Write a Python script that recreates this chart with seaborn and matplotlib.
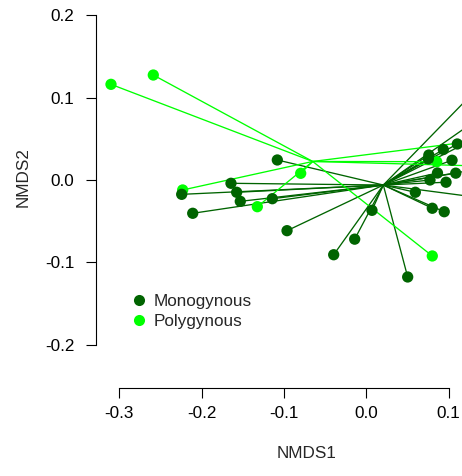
import numpy as np
import pandas as pd
import matplotlib
matplotlib.use("Agg")
import matplotlib.pyplot as plt
import seaborn as sns
from matplotlib.collections import LineCollection
from matplotlib.lines import Line2D

# ---- data (NMDS scores) ----
mono_x = [-0.1080, -0.1643, -0.1574, -0.1530, -0.2242, -0.2108, -0.1141, -0.0962,
          -0.0395, -0.0140, 0.0070, 0.0504, 0.0597, 0.0803, 0.0948, 0.0761,
          0.0755, 0.0937, 0.1107, 0.1043, 0.0866, 0.1088, 0.0775, 0.0970,
          0.1358, 0.1358, 0.1383, 0.1444, 0.1505]
mono_y = [0.0243, -0.0040, -0.0149, -0.0259, -0.0174, -0.0404, -0.0227, -0.0615,
          -0.0907, -0.0718, -0.0368, -0.1177, -0.0149, -0.0343, -0.0385, 0.0303,
          0.0257, 0.0370, 0.0437, 0.0240, 0.0085, 0.0083, 0.0000, -0.0027,
          0.1117, 0.0740, 0.0534, 0.0146, -0.0231]
poly_x = [-0.3101, -0.2587, -0.2230, -0.1323, -0.0796, 0.0857, 0.0803, 0.1322, 0.1383]
poly_y = [0.1161, 0.1274, -0.0121, -0.0324, 0.0081, 0.0222, -0.0922, 0.0473, 0.0170]
groups = ["Monogynous", "Polygynous"]
centroid_x = [0.0208, -0.0650]
centroid_y = [-0.0061, 0.0225]
colors = ["#006400", "#00FF00"]
x_ticks = [-0.3, -0.2, -0.1, 0.0, 0.1]
y_ticks = [-0.2, -0.1, 0.0, 0.1, 0.2]

df = pd.concat([
    pd.DataFrame({"NMDS1": poly_x, "NMDS2": poly_y, "Group": groups[1]}),
    pd.DataFrame({"NMDS1": mono_x, "NMDS2": mono_y, "Group": groups[0]}),
], ignore_index=True)
cent = pd.DataFrame({"Group": groups, "cx": centroid_x, "cy": centroid_y})
df = df.merge(cent, on="Group", how="left")

sns.set_style("white")
plt.rcParams["font.family"] = ["Liberation Sans", "DejaVu Sans"]
FS = 12.3

W, H = 462, 476
fig = plt.figure(figsize=(W / 100, H / 100), dpi=100)
left_px, right_px, bottom_px, top_px = 95.7, 517.7, 388.0, -34.0
ax = fig.add_axes([left_px / W, (H - bottom_px) / H,
                   (right_px - left_px) / W, (bottom_px - top_px) / H])
ax.set_xlim(-0.32868, 0.18408)
ax.set_ylim(-0.25243, 0.25971)

pal = dict(zip(groups, colors))
# spider lines from each site to its group centroid
for g in groups:
    sub = df[df["Group"] == g]
    segs = [[(r.NMDS1, r.NMDS2), (r.cx, r.cy)] for r in sub.itertuples()]
    ax.add_collection(LineCollection(segs, colors=pal[g], linewidths=0.95, zorder=1))

sns.scatterplot(data=df, x="NMDS1", y="NMDS2", hue="Group", hue_order=groups,
                palette=pal, s=66, linewidth=0, ax=ax, zorder=3, legend=False)

handles = [Line2D([], [], marker="o", linestyle="", markersize=8.0,
                  markerfacecolor=c, markeredgewidth=0) for c in colors]
ax.legend(handles, groups, loc="center left", frameon=False, fontsize=FS,
          bbox_to_anchor=(120 / W, (H - 311.5) / H), bbox_transform=fig.transFigure,
          handletextpad=0.25, labelspacing=0.3, borderpad=0, handlelength=1.2)

for s in ["top", "right"]:
    ax.spines[s].set_visible(False)
for s in ["left", "bottom"]:
    ax.spines[s].set_color("black")
    ax.spines[s].set_linewidth(0.8)
ax.spines["left"].set_bounds(-0.2, 0.2)
ax.spines["bottom"].set_bounds(-0.3, 0.1)
ax.set_xticks(x_ticks)
ax.set_yticks(y_ticks)
ax.set_xticklabels([f"{v:.1f}" for v in x_ticks])
ax.set_yticklabels([f"{v:.1f}" for v in y_ticks])
ax.tick_params(axis="both", direction="out", length=7.2, width=0.8, color="black",
               labelsize=FS, labelcolor="black", left=True, bottom=True)
ax.tick_params(axis="y", pad=8.2)
ax.tick_params(axis="x", pad=5.6)
ax.set_xlabel("")
ax.set_ylabel("")
fig.text(306.7 / W, (H - 453) / H, "NMDS1", ha="center", va="center", fontsize=FS)
fig.text(23.3 / W, (H - 176.7) / H, "NMDS2", ha="center", va="center",
         rotation=90, fontsize=FS)

fig.savefig("out.png", dpi=100)
